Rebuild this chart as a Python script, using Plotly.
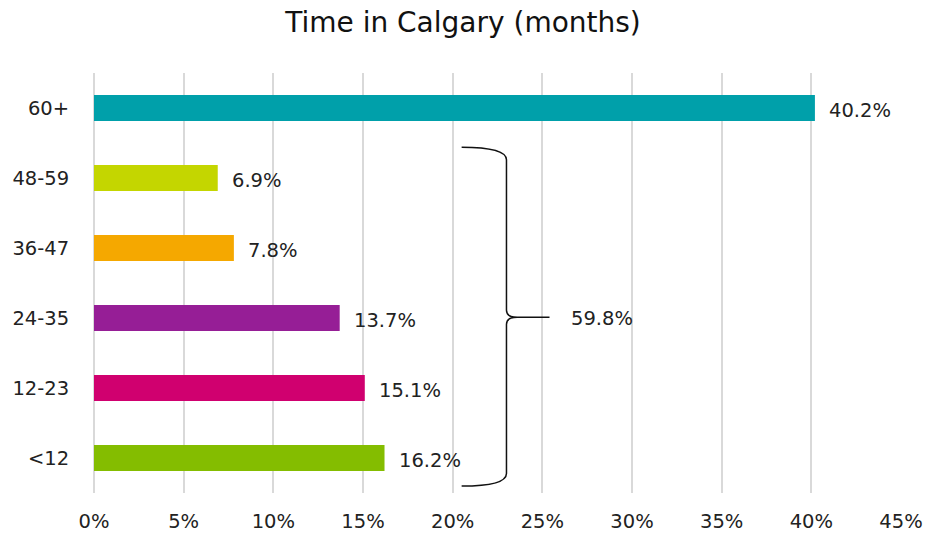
import plotly.graph_objects as go

categories = ["<12", "12-23", "24-35", "36-47", "48-59", "60+"]
values = [16.2, 15.1, 13.7, 7.8, 6.9, 40.2]
bar_colors = ["#84BD00", "#D0006F", "#961E96", "#F5A800", "#C4D600", "#00A0AA"]
group_total_label = "59.8%"
x_ticks = [0, 5, 10, 15, 20, 25, 30, 35, 40, 45]
x_tick_labels = [f"{t}%" for t in x_ticks]

FONT = "'DejaVu Sans', sans-serif"
ypos = list(range(len(categories)))

fig = go.Figure()
fig.add_trace(go.Bar(
    x=values, y=ypos, orientation="h",
    marker=dict(color=bar_colors, line=dict(width=0)),
    width=0.37, hoverinfo="skip",
))

for v, y in zip(values, ypos):
    fig.add_annotation(x=v, y=y, text=f"{v:.1f}%", showarrow=False,
                       xanchor="left", yanchor="middle", xshift=12, yshift=-2,
                       font=dict(family=FONT, size=19.5, color="#222222"))

# brace spanning the lower five categories
x0, xv, xt = 20.5, 23.0, 25.4
yt, ym, yb = 4.44, 2.01, -0.40
path = (f"M {x0},{yt} Q {xv},{yt} {xv},{yt-0.18} "
        f"L {xv},{ym+0.1} Q {xv},{ym} {xv+0.6},{ym} L {xt},{ym} "
        f"M {xv+0.6},{ym} Q {xv},{ym} {xv},{ym-0.1} "
        f"L {xv},{yb+0.18} Q {xv},{yb} {x0},{yb}")
fig.add_shape(type="path", path=path, xref="x", yref="y",
              line=dict(color="#111111", width=1.5))
fig.add_annotation(x=26.5, y=ym, text=group_total_label, showarrow=False,
                   xanchor="left", yanchor="middle", yshift=-1,
                   font=dict(family=FONT, size=19.5, color="#222222"))

fig.update_layout(
    width=926, height=539,
    margin=dict(l=94, r=25, t=73, b=46, autoexpand=False),
    paper_bgcolor="white", plot_bgcolor="white",
    showlegend=False,
    title=dict(text="Time in Calgary (months)", x=0.5, xanchor="center",
               y=0.958, yanchor="middle", automargin=False,
               font=dict(family=FONT, size=28, color="#111111")),
    xaxis=dict(range=[0, 45], tickvals=x_ticks, ticktext=x_tick_labels,
               showgrid=True, gridcolor="#D9D9D9", gridwidth=2,
               zeroline=True, zerolinecolor="#D9D9D9", zerolinewidth=2,
               showline=False, ticks="outside", ticklen=11,
               tickcolor="rgba(0,0,0,0)", automargin=False,
               tickfont=dict(family=FONT, size=19.5, color="#222222")),
    yaxis=dict(range=[-0.5, 5.5], tickvals=ypos, ticktext=categories,
               showgrid=False, zeroline=False, showline=False, ticks="outside",
               ticklen=20, tickcolor="rgba(0,0,0,0)", automargin=False,
               tickfont=dict(family=FONT, size=19.5, color="#222222")),
)

fig.write_html("out.html", config={"displayModeBar": False},
               post_script="document.body.style.margin='0';")
